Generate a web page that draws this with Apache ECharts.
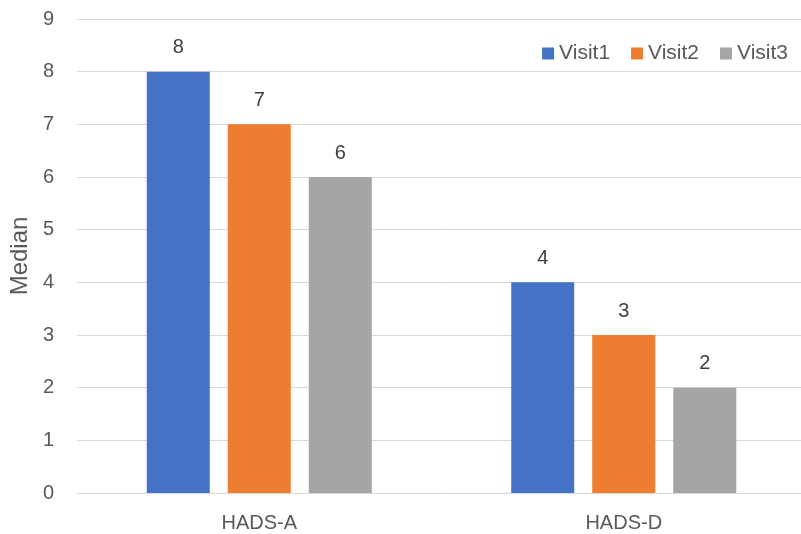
<!DOCTYPE html>
<html>
<head>
<meta charset="utf-8">
<script src="https://cdn.jsdelivr.net/npm/echarts@6/dist/echarts.min.js"></script>
<style>
  html, body { margin: 0; padding: 0; background: #ffffff; overflow: hidden; }
  #wrap { width: 801px; height: 534px; overflow: hidden; }
  /* the plot area runs slightly past the right edge, so the canvas is wider than the view */
  #chart { width: 810px; height: 534px; }
</style>
</head>
<body>
<div id="wrap"><div id="chart"></div></div>
<script>
// HADS subscale medians per visit
const categories = ['HADS-A', 'HADS-D'];
const visit1 = [8, 4];
const visit2 = [7, 3];
const visit3 = [6, 2];
const seriesNames = ['Visit1', 'Visit2', 'Visit3'];
const seriesColors = ['#4472C4', '#ED7D31', '#A5A5A5'];
const yTicks = { min: 0, max: 9, interval: 1 };

const FONT = 'Liberation Sans, Arial, sans-serif';

const chart = echarts.init(document.getElementById('chart'), null, { renderer: 'canvas' });

const values = [visit1, visit2, visit3];
const series = seriesNames.map((name, i) => ({
  name: name,
  type: 'bar',
  data: values[i],
  barWidth: 63,
  barGap: '28.6%',
  itemStyle: { color: seriesColors[i] },
  label: {
    show: true,
    position: 'top',
    distance: 14,
    color: '#404040',
    fontSize: 20,
    fontFamily: FONT
  }
}));

chart.setOption({
  animation: false,
  backgroundColor: '#ffffff',
  grid: { left: 75, top: 19, width: 731, height: 474, containLabel: false },
  legend: {
    data: seriesNames,
    right: 17,
    top: 38,
    itemWidth: 12,
    itemHeight: 12,
    itemGap: 21,
    icon: 'rect',
    textStyle: { color: '#595959', fontSize: 21, fontFamily: FONT }
  },
  xAxis: {
    type: 'category',
    data: categories,
    axisLine: { show: true, lineStyle: { color: '#D9D9D9', width: 1 } },
    axisTick: { show: false },
    axisLabel: { color: '#595959', fontSize: 20, fontFamily: FONT, margin: 20 }
  },
  yAxis: {
    type: 'value',
    min: yTicks.min,
    max: yTicks.max,
    interval: yTicks.interval,
    name: 'Median',
    nameLocation: 'middle',
    nameGap: 42,
    nameRotate: 90,
    nameTextStyle: { color: '#595959', fontSize: 24, fontFamily: FONT },
    axisLine: { show: false },
    axisTick: { show: false },
    axisLabel: { color: '#595959', fontSize: 20, fontFamily: FONT, margin: 23 },
    splitLine: { lineStyle: { color: '#D9D9D9', width: 1 } }
  },
  series: series
});
</script>
</body>
</html>
